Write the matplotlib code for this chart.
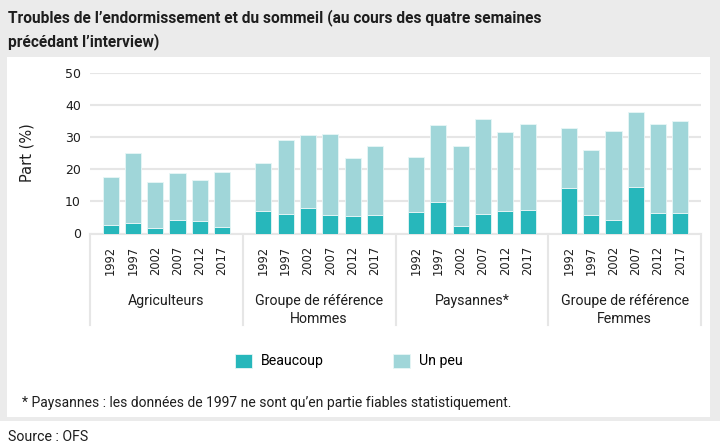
import matplotlib.pyplot as plt
from matplotlib.patches import Rectangle
import matplotlib.transforms as mtransforms

groups = ["Agriculteurs", "Groupe de référence\nHommes", "Paysannes*", "Groupe de référence\nFemmes"]
years = ["1992", "1997", "2002", "2007", "2012", "2017"]

# share (%) per group, in year order
beaucoup = [
    [2.5, 3.2, 1.8, 4.3, 4.0, 2.1],
    [7.1, 6.0, 7.8, 5.7, 5.3, 5.7],
    [6.8, 9.8, 2.4, 6.0, 7.0, 7.4],
    [14.2, 5.7, 4.2, 14.6, 6.4, 6.4],
]
total = [
    [17.7, 25.1, 16.1, 18.7, 16.6, 19.0],
    [21.8, 29.1, 30.5, 30.9, 23.4, 27.3],
    [23.7, 33.7, 27.3, 35.5, 31.6, 34.2],
    [32.7, 25.9, 32.0, 37.7, 34.1, 34.9],
]
un_peu = [[t - b for t, b in zip(tr, br)] for tr, br in zip(total, beaucoup)]

C_BEAU = "#27b7bb"
C_PEU = "#a0d6d9"
GRID = "#e6e6e6"
FRAME = "#ebebeb"
TXT = "#1e1e1e"

plt.rcParams["font.family"] = ["Roboto", "DejaVu Sans"]

W, H = 720, 446
fig = plt.figure(figsize=(W / 100, H / 100), dpi=100)

# grey frame + white panel
fig.patches.append(Rectangle((0, 1 - 421 / H), 1, 421 / H, transform=fig.transFigure,
                             facecolor=FRAME, edgecolor="none", zorder=-10))
fig.patches.append(Rectangle((7 / W, 1 - 417 / H), (710 - 7) / W, (417 - 57) / H,
                             transform=fig.transFigure, facecolor="white", edgecolor="none", zorder=-9))

fig.text(8 / W, 1 - 18 / H, "Troubles de l\u2019endormissement et du sommeil (au cours des quatre semaines",
         fontsize=11.2, va="center", ha="left", fontweight="bold", color=TXT)
fig.text(8 / W, 1 - 42 / H, "précédant l\u2019interview)",
         fontsize=11.2, va="center", ha="left", fontweight="bold", color=TXT)

left, right, top, bottom = 90, 701, 72.7, 233.5
ax = fig.add_axes([left / W, 1 - bottom / H, (right - left) / W, (bottom - top) / H])
ax.set_facecolor("none")

gw = 6.85
pad = (gw - 5) / 2
bw = 0.72
xs_all = []
for g in range(len(groups)):
    xs = [g * gw + pad + i for i in range(len(years))]
    xs_all += xs
    ax.bar(xs, beaucoup[g], width=bw, color=C_BEAU, edgecolor="#e8f6f6", linewidth=0.6, zorder=3,
           label="Beaucoup" if g == 0 else None)
    ax.bar(xs, un_peu[g], bottom=beaucoup[g], width=bw, color=C_PEU, edgecolor="#e8f6f6",
           linewidth=0.6, zorder=3, label="Un peu" if g == 0 else None)

ax.set_xlim(0, gw * len(groups))
ax.set_ylim(0, 50)
ax.set_yticks(range(0, 51, 10))
ax.set_yticklabels([str(v) for v in range(0, 51, 10)], fontfamily="DejaVu Sans")
ax.yaxis.grid(True, color=GRID, linewidth=1.5, zorder=0)
ax.set_axisbelow(True)
for s in ["top", "right", "left"]:
    ax.spines[s].set_visible(False)
ax.spines["bottom"].set_color(GRID)
ax.spines["bottom"].set_linewidth(1.5)
ax.tick_params(axis="y", length=0, pad=6.5, labelsize=9, labelcolor=TXT)
ax.tick_params(axis="x", length=0, pad=9, labelsize=8.3, labelcolor=TXT)
ax.set_xticks(xs_all)
ax.set_xticklabels(years * len(groups), rotation=90, fontfamily="DejaVu Sans")
ax.set_ylabel("Part (%)", fontsize=10.5, labelpad=22, color=TXT, fontfamily="DejaVu Sans")

# group separators and labels
trans = mtransforms.blended_transform_factory(ax.transData, ax.transAxes)
yb = -(325 - bottom) / (bottom - top)
for g in range(len(groups) + 1):
    ax.plot([g * gw, g * gw], [0, yb], color=GRID, linewidth=1.5, transform=trans, clip_on=False)
ylab = -(294 - bottom) / (bottom - top)
for g, name in enumerate(groups):
    ax.text(g * gw + gw / 2, ylab, name, transform=trans, ha="center", va="top",
            fontsize=10.2, color=TXT, linespacing=1.35)

handles, labels = ax.get_legend_handles_labels()
fig.legend(handles, labels, loc="center", bbox_to_anchor=(349 / W, 1 - 361 / H), ncol=2,
           frameon=False, fontsize=10.2, handlelength=1.15, handleheight=1.15,
           columnspacing=4.9, handletextpad=0.65)

fig.text(22 / W, 1 - 403 / H, "* Paysannes : les données de 1997 ne sont qu\u2019en partie fiables statistiquement.",
         fontsize=10, va="center", ha="left", color=TXT)
fig.text(8 / W, 1 - 437 / H, "Source : OFS", fontsize=10.2, va="center", ha="left", color=TXT)

fig.savefig("out.png", dpi=100, facecolor="white")
